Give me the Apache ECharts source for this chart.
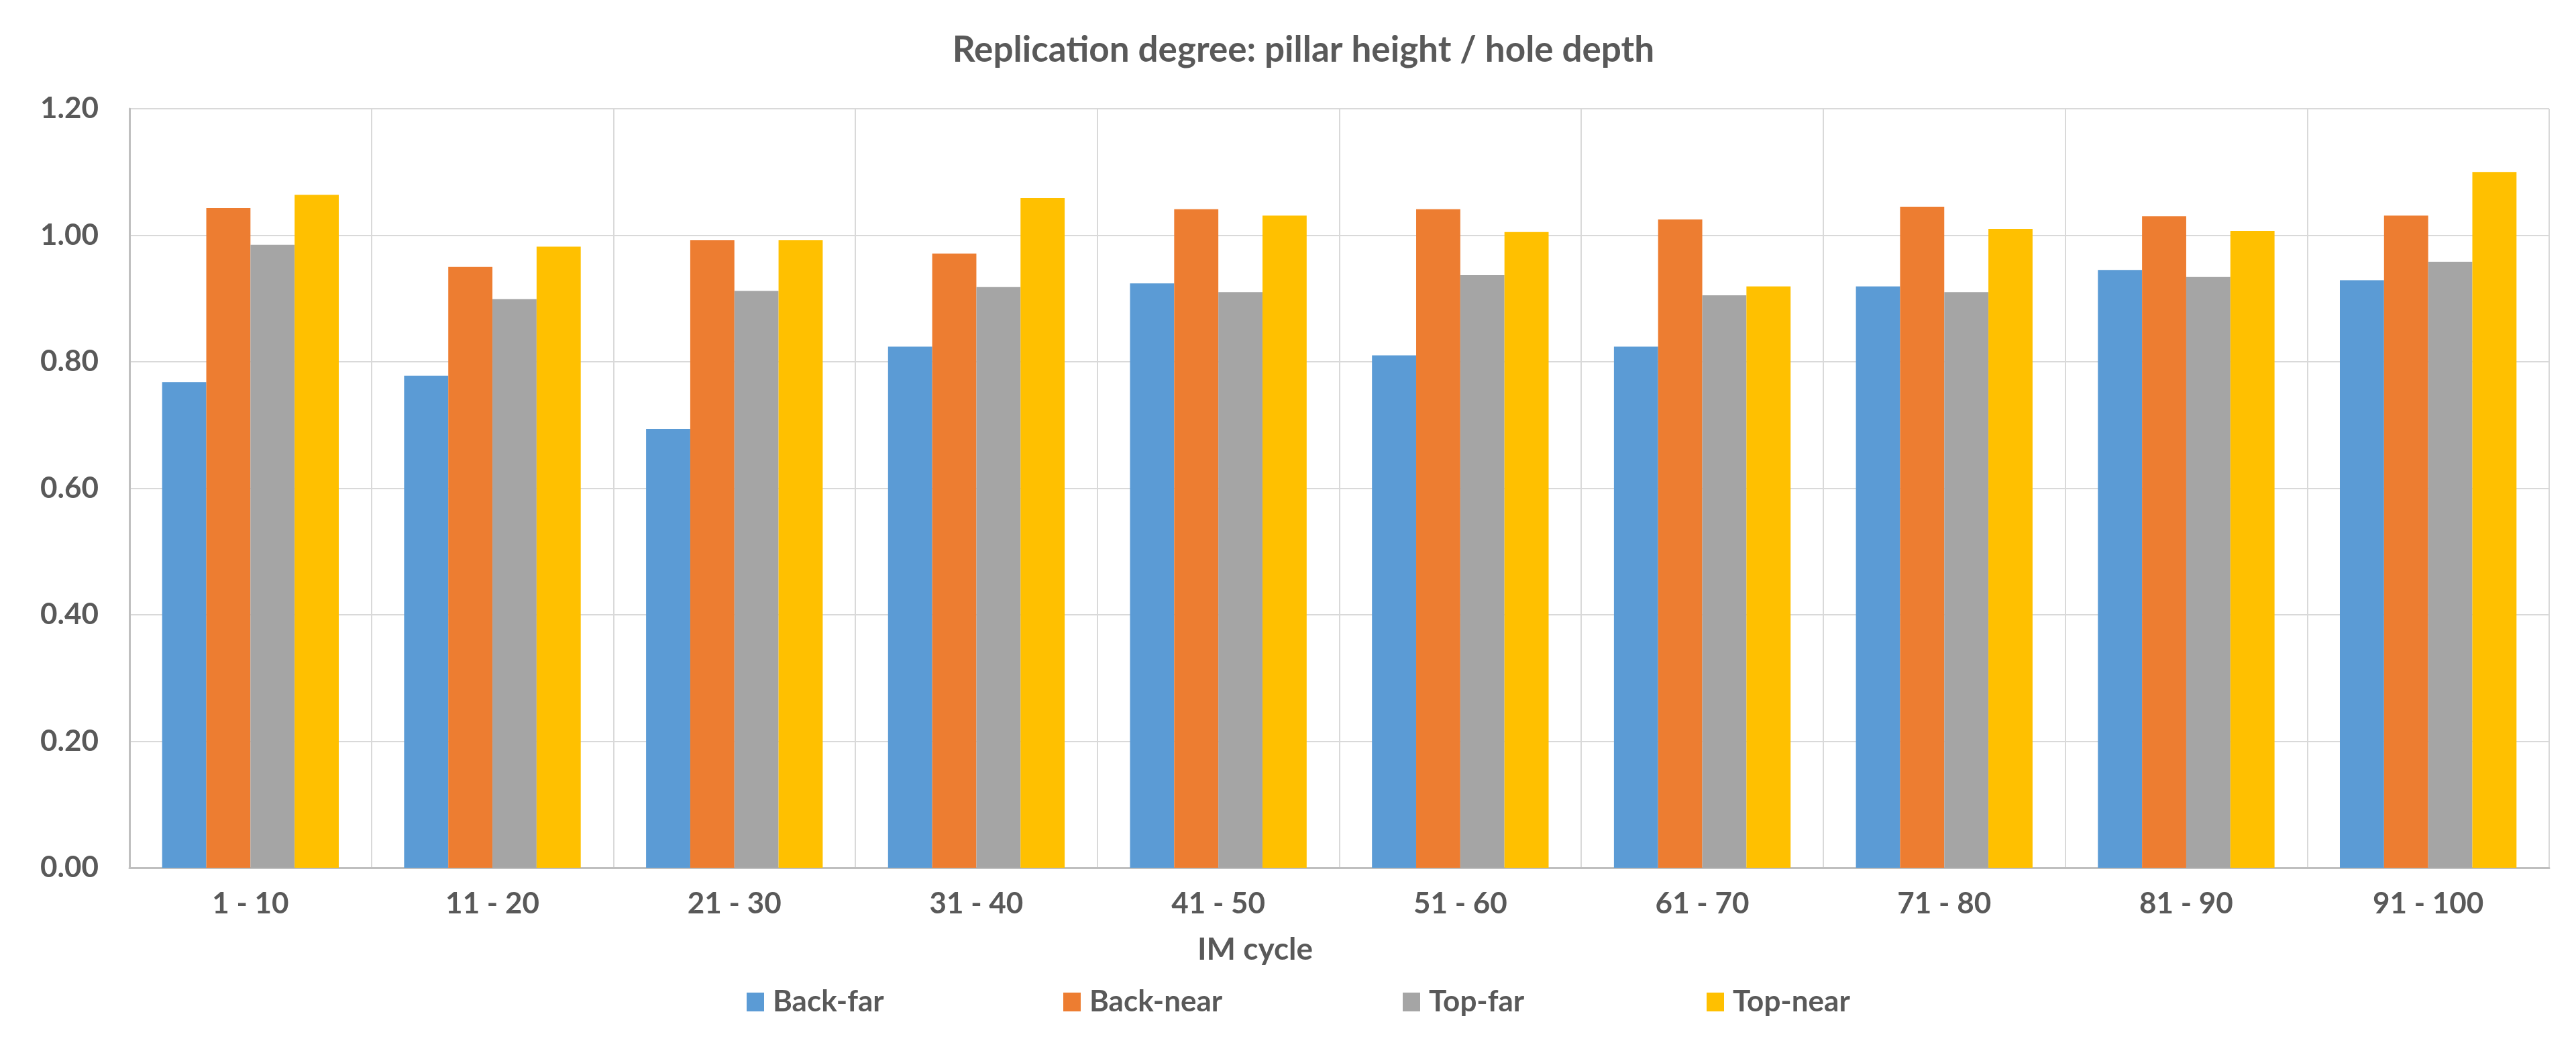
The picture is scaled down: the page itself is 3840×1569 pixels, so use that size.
<!DOCTYPE html>
<html>
<head>
<meta charset="utf-8">
<script src="https://cdn.jsdelivr.net/npm/echarts@6/dist/echarts.min.js"></script>
<style>
html,body{margin:0;padding:0;background:#fff;}
#chart{width:3840px;height:1569px;}
</style>
</head>
<body>
<div id="chart"></div>
<script>
const categories = ['1 - 10','11 - 20','21 - 30','31 - 40','41 - 50','51 - 60','61 - 70','71 - 80','81 - 90','91 - 100'];
const backFar  = [0.768, 0.778, 0.694, 0.824, 0.924, 0.810, 0.824, 0.919, 0.945, 0.929];
const backNear = [1.043, 0.950, 0.992, 0.971, 1.041, 1.041, 1.025, 1.045, 1.030, 1.031];
const topFar   = [0.985, 0.899, 0.912, 0.918, 0.910, 0.937, 0.905, 0.910, 0.934, 0.958];
const topNear  = [1.064, 0.982, 0.992, 1.059, 1.031, 1.005, 0.919, 1.010, 1.007, 1.100];
const seriesNames = ['Back-far','Back-near','Top-far','Top-near'];
const colors = ['#5B9BD5','#ED7D31','#A5A5A5','#FFC000'];
const yTicks = {min: 0, max: 1.2, interval: 0.2};

const FONT = 'Lato, "Open Sans", sans-serif';
const TXT = '#595959';

const chart = echarts.init(document.getElementById('chart'), null, {renderer: 'canvas'});
const legendLefts = [1108, 1580, 2086, 2539];
const dataSets = [backFar, backNear, topFar, topNear];

const option = {
  backgroundColor: '#ffffff',
  animation: false,
  color: colors,
  title: [
    {
      text: 'Replication degree: pillar height / hole depth',
      left: 1938, top: 43, textAlign: 'center',
      textStyle: {fontFamily: FONT, fontSize: 53, fontWeight: 'bold', color: TXT}
    },
    {
      text: 'IM cycle',
      left: 1866, top: 1387, textAlign: 'center',
      textStyle: {fontFamily: FONT, fontSize: 46, fontWeight: 'bold', color: TXT}
    }
  ],
  legend: seriesNames.map((n, i) => ({
    data: [n],
    left: legendLefts[i], top: 1466,
    itemWidth: 26, itemHeight: 28,
    icon: 'rect',
    textStyle: {fontFamily: FONT, fontSize: 44, fontWeight: 'bold', color: TXT, padding: [0, 0, 0, 8]},
    selectedMode: false
  })),
  grid: {left: 193, right: 40, top: 162, bottom: 276, containLabel: false},
  xAxis: {
    type: 'category',
    data: categories,
    boundaryGap: true,
    axisLine: {show: true, lineStyle: {color: '#BFBFBF', width: 3}},
    axisTick: {show: false},
    splitLine: {show: true, lineStyle: {color: '#D9D9D9', width: 2}},
    axisLabel: {fontFamily: FONT, fontSize: 44, fontWeight: 'bold', color: TXT, margin: 32}
  },
  yAxis: {
    type: 'value',
    min: yTicks.min, max: yTicks.max, interval: yTicks.interval,
    axisLine: {show: true, lineStyle: {color: '#BFBFBF', width: 3}},
    axisTick: {show: false},
    splitLine: {show: true, lineStyle: {color: '#D9D9D9', width: 2}},
    axisLabel: {
      fontFamily: FONT, fontSize: 44, fontWeight: 'bold', color: TXT, margin: 46,
      formatter: v => v.toFixed(2)
    }
  },
  series: seriesNames.map((n, i) => ({
    name: n,
    type: 'bar',
    data: dataSets[i],
    barGap: '0%',
    barCategoryGap: '27%',
    itemStyle: {color: colors[i]}
  }))
};
chart.setOption(option);
</script>
</body>
</html>
